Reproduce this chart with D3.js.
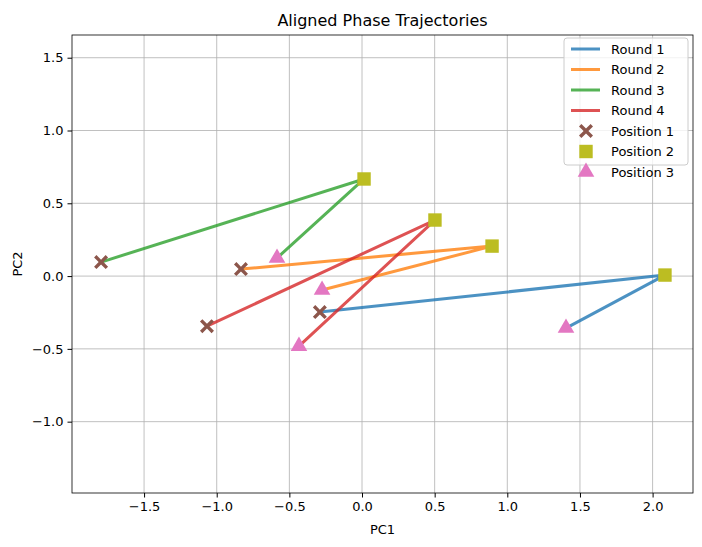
<!DOCTYPE html>
<html>
<head>
<meta charset="UTF-8">
<title></title>
<style>body{margin:0;background:#fff;font-family:"DejaVu Sans",sans-serif;}</style>
</head>
<body>
<script src="https://cdn.jsdelivr.net/npm/d3@7"></script>
<script>
var rounds = ["Round 1", "Round 2", "Round 3", "Round 4"];
var roundColors = ["#1f77b4", "#ff7f0e", "#2ca02c", "#d62728"];
var pc1 = [
	[-0.29, 2.085, 1.404],
	[-0.833, 0.895, -0.275],
	[-1.796, 0.014, -0.585],
	[-1.067, 0.502, -0.434]
];
var pc2 = [
	[-0.247, 0.007, -0.357],
	[0.048, 0.206, -0.096],
	[0.096, 0.667, 0.124],
	[-0.344, 0.385, -0.481]
];
var positions = ["Position 1", "Position 2", "Position 3"];
var posColors = ["#8c564b", "#bcbd22", "#e377c2"];
var xTicks = [-1.5, -1.0, -0.5, 0.0, 0.5, 1.0, 1.5, 2.0];
var yTicks = [-1.0, -0.5, 0.0, 0.5, 1.0, 1.5];

var W = 702, H = 547, L = 72, R = 693, T = 35, B = 493;
var svg = d3.select('body').append('svg').attr('width', W).attr('height', H)
	.attr('font-family', 'DejaVu Sans');
var x = d3.scaleLinear().domain([-1.996, 2.278]).range([L, R]);
var y = d3.scaleLinear().domain([-1.49, 1.656]).range([B, T]);

// grid
svg.selectAll('.gx').data(xTicks).enter().append('line')
	.attr('x1', d => x(d)).attr('x2', d => x(d)).attr('y1', T).attr('y2', B)
	.attr('stroke', '#b0b0b0').attr('stroke-width', 0.8);
svg.selectAll('.gy').data(yTicks).enter().append('line')
	.attr('y1', d => y(d)).attr('y2', d => y(d)).attr('x1', L).attr('x2', R)
	.attr('stroke', '#b0b0b0').attr('stroke-width', 0.8);

var fmt = d => d3.format('.1f')(d).replace('-', '\u2212');
svg.append('g').attr('transform', 'translate(0,' + B + ')')
	.call(d3.axisBottom(x).tickValues(xTicks).tickFormat(fmt).tickSize(4.5).tickPadding(4))
	.call(g => g.selectAll('text').attr('font-size', 13).attr('fill', '#000').attr('font-family', 'DejaVu Sans'));
svg.append('g').attr('transform', 'translate(' + L + ',0)')
	.call(d3.axisLeft(y).tickValues(yTicks).tickFormat(fmt).tickSize(4.5).tickPadding(4))
	.call(g => g.selectAll('text').attr('font-size', 13).attr('fill', '#000').attr('font-family', 'DejaVu Sans'));
svg.selectAll('.domain').remove();
svg.append('rect').attr('x', L).attr('y', T).attr('width', R - L).attr('height', B - T)
	.attr('fill', 'none').attr('stroke', '#000').attr('stroke-width', 0.8);

svg.append('text').attr('x', (L + R) / 2).attr('y', T - 9).attr('text-anchor', 'middle')
	.attr('font-size', 16).text('Aligned Phase Trajectories');
svg.append('text').attr('x', (L + R) / 2).attr('y', 534).attr('text-anchor', 'middle')
	.attr('font-size', 13).text('PC1');
svg.append('text').attr('transform', 'translate(22,' + (T + B) / 2 + ') rotate(-90)')
	.attr('text-anchor', 'middle').attr('font-size', 13).text('PC2');

var line = d3.line().x(d => x(d[0])).y(d => y(d[1]));
rounds.forEach(function(r, i) {
	var pts = pc1[i].map((v, j) => [v, pc2[i][j]]);
	svg.append('path').attr('d', line(pts)).attr('fill', 'none')
		.attr('stroke', roundColors[i]).attr('stroke-opacity', 0.8).attr('stroke-width', 3);
});

// filled X like matplotlib 'X'
var a = 7, b = 2.4;
var xPath = 'M' + [[-a + b, -a], [0, -b], [a - b, -a], [a, -a + b], [b, 0], [a, a - b], [a - b, a],
	[0, b], [-a + b, a], [-a, a - b], [-b, 0], [-a, -a + b]].join('L') + 'Z';
var shapes = [
	() => xPath,
	d3.symbol().type(d3.symbolSquare).size(180),
	d3.symbol().type(d3.symbolTriangle).size(120)
];
function marker(g, j, cx, cy) {
	return g.append('path').attr('d', shapes[j]()).attr('transform', 'translate(' + cx + ',' + cy + ')')
		.attr('fill', posColors[j]);
}
rounds.forEach(function(r, i) {
	for (var j = 0; j < 3; j++) marker(svg, j, x(pc1[i][j]), y(pc2[i][j]));
});

// legend
var lg = svg.append('g').attr('transform', 'translate(564,38)');
lg.append('rect').attr('width', 124).attr('height', 127).attr('rx', 3)
	.attr('fill', '#fff').attr('fill-opacity', 0.8).attr('stroke', '#ccc');
rounds.forEach(function(r, i) {
	var yy = 11 + i * 20.5;
	lg.append('line').attr('x1', 7).attr('x2', 36).attr('y1', yy).attr('y2', yy)
		.attr('stroke', roundColors[i]).attr('stroke-opacity', 0.8).attr('stroke-width', 3);
	lg.append('text').attr('x', 47).attr('y', yy + 4.5).attr('font-size', 13).text(r);
});
positions.forEach(function(p, j) {
	var yy = 11 + (j + 4) * 20.5;
	marker(lg, j, 22, yy);
	lg.append('text').attr('x', 47).attr('y', yy + 4.5).attr('font-size', 13).text(p);
});
</script>
</body>
</html>
